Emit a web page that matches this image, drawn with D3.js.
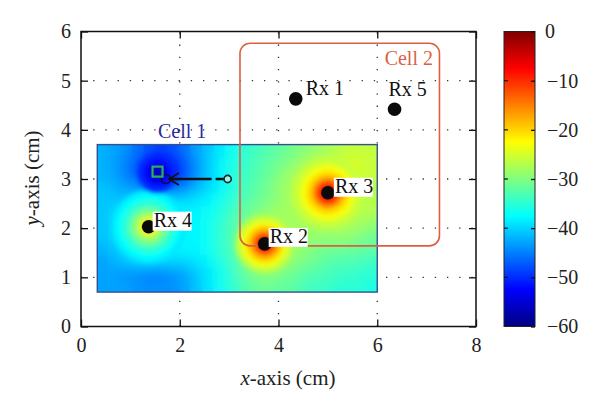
<!DOCTYPE html>
<html><head><meta charset="utf-8">
<script src="https://cdn.jsdelivr.net/npm/d3@7"></script>
<style>html,body{margin:0;padding:0;background:#fff}svg{display:block}text{font-family:"Liberation Serif",serif;fill:#222}</style>
</head><body><svg id="c" width="600" height="411"></svg>
<script>
const xTicks=[0,2,4,6,8];
const yTicks=[0,1,2,3,4,5,6];
const barTicks=[0,-10,-20,-30,-40,-50,-60];
const fieldX=[0.33,6.0];
const fieldY=[0.7,3.7];
const field=[
[-42,-43,-44,-46,-48,-49,-48,-46,-43,-41,-39,-37,-35,-34,-33,-32,-31,-30,-29,-28,-27,-26,-26,-26],
[-42,-43,-45,-48,-51,-52,-51,-48,-44,-41,-38,-36,-35,-33,-32,-31,-30,-28,-27,-26,-26,-25,-25,-26],
[-42,-43,-45,-48,-51,-53,-52,-49,-44,-41,-38,-36,-34,-33,-32,-30,-28,-27,-26,-25,-25,-25,-25,-26],
[-41,-42,-43,-44,-46,-47,-47,-45,-42,-40,-38,-36,-34,-32,-31,-29,-28,-26,-25,-24,-24,-25,-26,-27],
[-41,-41,-41,-40,-40,-40,-40,-40,-39,-38,-37,-35,-33,-32,-31,-29,-28,-26,-25,-24,-24,-25,-26,-27],
[-41,-40,-38,-37,-36,-36,-37,-38,-38,-37,-36,-34,-32,-30,-29,-28,-28,-27,-26,-26,-26,-26,-27,-27],
[-41,-40,-38,-37,-36,-36,-37,-38,-38,-37,-35,-33,-31,-29,-28,-28,-28,-28,-27,-27,-27,-27,-28,-29],
[-41,-40,-38,-37,-36,-36,-37,-38,-38,-37,-35,-33,-31,-29,-28,-28,-28,-29,-29,-29,-29,-29,-30,-31],
[-42,-41,-39,-38,-38,-38,-38,-38,-38,-37,-35,-33,-31,-29,-28,-28,-28,-29,-30,-31,-31,-31,-32,-32],
[-43,-42,-41,-40,-40,-40,-40,-40,-39,-38,-36,-34,-31,-29,-28,-28,-29,-30,-31,-32,-33,-33,-33,-34],
[-43,-43,-44,-44,-45,-45,-44,-43,-41,-39,-37,-35,-32,-30,-29,-30,-31,-32,-33,-33,-34,-34,-35,-35],
[-43,-43,-43,-44,-44,-44,-44,-43,-41,-39,-37,-35,-33,-32,-31,-32,-32,-33,-34,-34,-35,-35,-35,-36]
];
const rxNames=["Rx 1","Rx 2","Rx 3","Rx 4","Rx 5"];
const rxX=[4.35,3.72,5.0,1.37,6.35];
const rxY=[4.63,1.68,2.72,2.03,4.42];
const jetStops=[-60,-52.5,-37.5,-22.5,-7.5,0];
const jetColors=["#00007f","#0000ff","#00ffff","#ffff00","#ff0000","#7f0000"];
const cell2X=[3.22,7.26];
const cell2Y=[1.64,5.76];
const moveX=[2.97,1.8];
const moveY=[3,3];
const squareAt=[1.55,3.15];
// radial readings of the field around its sharp features: distance in cm, level in dB
const peakNames=["Rx 2","Rx 3","Rx 4","Null"];
const peakX=[3.72,5.0,1.37,1.55];
const peakY=[1.68,2.72,2.03,3.13];
const peakR=[
 [.60,.52,.45,.38,.30,.24,.18,.12],
 [.72,.62,.55,.45,.38,.30,.24,.18,.12],
 [.75,.67,.55,.40,.27,.17,.10],
 [.40,.30,.20,.12]
];
const peakV=[
 [-27,-25,-23,-20,-17,-14,-9,-5],
 [-26,-25,-23,-21,-19,-15,-12,-8,-4],
 [-39,-37.5,-35,-31,-27,-22,-18],
 [-50,-52,-54,-56]
];

const svg=d3.select("#c");
const W={l:81,r:476,t:31.5,b:326.5};
const x=d3.scaleLinear().domain([0,8]).range([W.l,W.r]);
const y=d3.scaleLinear().domain([0,6]).range([W.b,W.t]);
const jet=d3.scaleLinear().domain(jetStops).range(jetColors).clamp(true);
const defs=svg.append("defs");
defs.append("clipPath").attr("id","fc").append("rect")
 .attr("x",x(fieldX[0])).attr("y",y(fieldY[1]))
 .attr("width",x(fieldX[1])-x(fieldX[0])).attr("height",y(fieldY[0])-y(fieldY[1]));
const f=defs.append("filter").attr("id","bl").attr("x","-5%").attr("y","-5%").attr("width","110%").attr("height","110%");
f.append("feGaussianBlur").attr("stdDeviation",7);
const f2=defs.append("filter").attr("id","bl2").attr("x","-30%").attr("y","-30%").attr("width","160%").attr("height","160%");
f2.append("feGaussianBlur").attr("stdDeviation",2.2);
const g=defs.append("linearGradient").attr("id","jet").attr("x1",0).attr("x2",0).attr("y1",1).attr("y2",0);
jetStops.forEach((s,i)=>g.append("stop").attr("offset",(s+60)/60).attr("stop-color",jetColors[i]));

// grid
const grid=svg.append("g").attr("stroke","#333").attr("stroke-width",1.3).attr("stroke-dasharray","1.3 10.9");
grid.selectAll(".gx").data(xTicks.slice(1,-1)).join("line").attr("x1",d=>x(d)).attr("x2",d=>x(d)).attr("y1",W.b).attr("y2",W.t);
grid.selectAll(".gy").data(yTicks.slice(1,-1)).join("line").attr("x1",W.l).attr("x2",W.r).attr("y1",d=>y(d)).attr("y2",d=>y(d));

// field
const cols=d3.scaleBand().domain(d3.range(field[0].length)).range([x(fieldX[0]),x(fieldX[1])]);
const rows=d3.scaleBand().domain(d3.range(field.length)).range([y(fieldY[1]),y(fieldY[0])]);
function cells(sel){
 sel.selectAll("g").data(field).join("g").attr("transform",(d,i)=>`translate(0,${rows(i)})`)
  .selectAll("rect").data(d=>d).join("rect")
  .attr("x",(d,i)=>cols(i)-.3).attr("width",cols.bandwidth()+.6).attr("height",rows.bandwidth()+.6).attr("fill",d=>jet(d));
}
const fg=svg.append("g").attr("clip-path","url(#fc)");
cells(fg.append("g"));
cells(fg.append("g").attr("filter","url(#bl)"));
const cm=x(1)-x(0);
peakNames.forEach((n,i)=>{
 fg.append("g").attr("filter","url(#bl2)").selectAll("circle").data(peakR[i]).join("circle")
  .attr("cx",x(peakX[i])).attr("cy",y(peakY[i])).attr("r",d=>d*cm).attr("fill",(d,j)=>jet(peakV[i][j]));
});
svg.append("rect").attr("x",x(fieldX[0])).attr("y",y(fieldY[1]))
 .attr("width",x(fieldX[1])-x(fieldX[0])).attr("height",y(fieldY[0])-y(fieldY[1]))
 .attr("fill","none").attr("stroke","#34508f").attr("stroke-width",1.4);

// cell 2
svg.append("rect").attr("x",x(cell2X[0])).attr("y",y(cell2Y[1]))
 .attr("width",x(cell2X[1])-x(cell2X[0])).attr("height",y(cell2Y[0])-y(cell2Y[1]))
 .attr("rx",10).attr("fill","none").attr("stroke","#dd5f42").attr("stroke-width",1.6);
svg.append("text").attr("x",x(6.15)).attr("y",y(5.32)).attr("font-size",20).style("fill","#dd5f42").text("Cell 2");
svg.append("text").attr("x",x(1.56)).attr("y",y(3.83)).attr("font-size",20).style("fill","#2a2a9a").text("Cell 1");

// axes
const ax=(sel,a)=>{sel.call(a);sel.select(".domain").remove();
 sel.selectAll("line").attr("stroke","#111").attr("stroke-width",1.3);
 sel.selectAll("text").attr("font-size",20).style("fill","#222");};
svg.append("g").attr("transform",`translate(0,${W.b})`).call(s=>ax(s,d3.axisBottom(x).tickValues(xTicks).tickSize(-7).tickPadding(11).tickFormat(d3.format("d"))));
svg.append("g").attr("transform",`translate(0,${W.t})`).call(s=>ax(s,d3.axisTop(x).tickValues(xTicks).tickSize(-7).tickFormat("")));
svg.append("g").attr("transform",`translate(${W.l},0)`).call(s=>ax(s,d3.axisLeft(y).tickValues(yTicks).tickSize(-7).tickPadding(10).tickFormat(d3.format("d"))));
svg.append("g").attr("transform",`translate(${W.r},0)`).call(s=>ax(s,d3.axisRight(y).tickValues(yTicks).tickSize(-7).tickFormat("")));
svg.append("rect").attr("x",W.l).attr("y",W.t).attr("width",W.r-W.l).attr("height",W.b-W.t).attr("fill","none").attr("stroke","#111").attr("stroke-width",1.5);

// titles
const xt=svg.append("text").attr("x",288).attr("y",385).attr("text-anchor","middle").attr("font-size",21);
xt.append("tspan").attr("font-style","italic").text("x");xt.append("tspan").text("-axis (cm)");
const yt=svg.append("text").attr("transform","translate(39,178) rotate(-90)").attr("text-anchor","middle").attr("font-size",21);
yt.append("tspan").attr("font-style","italic").text("y");yt.append("tspan").text("-axis (cm)");

// moving path
const mv=svg.append("g");
mv.append("line").attr("x1",x(moveX[0])).attr("x2",x(moveX[1])).attr("y1",y(moveY[0])).attr("y2",y(moveY[1]))
 .attr("stroke","#111").attr("stroke-width",2.4).attr("stroke-dasharray","12 4 42");
mv.append("circle").attr("cx",x(moveX[0])).attr("cy",y(moveY[0])).attr("r",3.6).attr("fill","#9ff5d8").attr("stroke","#123").attr("stroke-width",1.6);
mv.append("circle").attr("cx",x(moveX[1])-4).attr("cy",y(moveY[1])).attr("r",4.5).attr("fill","none").attr("stroke","#0a0a50").attr("stroke-width",1.6);
mv.append("path").attr("d",`M${x(moveX[1])+9},${y(moveY[1])-6}L${x(moveX[1])-1},${y(moveY[1])}L${x(moveX[1])+9},${y(moveY[1])+6}`).attr("fill","none").attr("stroke","#111").attr("stroke-width",1.6);
mv.append("rect").attr("x",x(squareAt[0])-5).attr("y",y(squareAt[1])-5).attr("width",10).attr("height",10).attr("fill","none").attr("stroke","#25b35a").attr("stroke-width",2.2);

// receivers
const rx=rxNames.map((n,i)=>({n,x:rxX[i],y:rxY[i]}));
const offs={"Rx 1":[10,-4],"Rx 2":[5,-1],"Rx 3":[7,0],"Rx 4":[5,0],"Rx 5":[-6,-13]};
const rg=svg.selectAll(".rx").data(rx).join("g");
rg.append("circle").attr("cx",d=>x(d.x)).attr("cy",d=>y(d.y)).attr("r",6.8).attr("fill","#0a0a0a");
rg.each(function(d){
 const s=d3.select(this),o=offs[d.n],tx=x(d.x)+o[0],ty=y(d.y)+o[1];
 if(d.n=="Rx 2"||d.n=="Rx 3"||d.n=="Rx 4")
  s.append("rect").attr("x",tx-1).attr("y",ty-15).attr("width",39).attr("height",19).attr("fill","#fff");
 s.append("text").attr("x",tx).attr("y",ty).attr("font-size",20).style("fill","#111").text(d.n);
});

// colour bar
const bar=d3.scaleLinear().domain([-60,0]).range([326.5,31.5]);
svg.append("rect").attr("x",504).attr("y",31.5).attr("width",31).attr("height",295).attr("fill","url(#jet)").attr("stroke","#222").attr("stroke-width",1);
const bg=svg.append("g").attr("transform","translate(535,0)");
bg.call(s=>ax(s,d3.axisRight(bar).tickValues(barTicks).tickSize(-4).tickPadding(15).tickFormat(d=>d<0?"\u2212"+(-d):d)));
bg.selectAll("text").attr("text-anchor","start").attr("x",d=>d==0?10:12);
svg.append("g").selectAll("line").data(barTicks.slice(1,-1)).join("line").attr("x1",504).attr("x2",508).attr("y1",bar).attr("y2",bar).attr("stroke","#111").attr("stroke-width",1.2);
</script></body></html>
